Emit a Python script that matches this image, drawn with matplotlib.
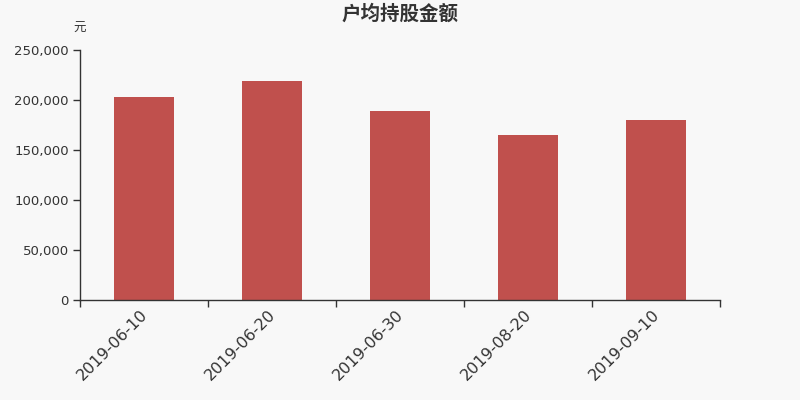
import matplotlib
matplotlib.use("Agg")
import matplotlib.pyplot as plt
import matplotlib.transforms as mtransforms
import numpy as np

plt.rcParams['font.family'] = ['DejaVu Sans', 'Noto Sans CJK SC']

categories = ["2019-06-10", "2019-06-20", "2019-06-30", "2019-08-20", "2019-09-10"]
values = [203000, 219000, 189000, 165000, 180000]
yticks = [0, 50000, 100000, 150000, 200000, 250000]
title = "户均持股金额"
unit = "元"

bg = "#f8f8f8"
fig = plt.figure(figsize=(8, 4), dpi=100, facecolor=bg)
ax = fig.add_axes([0.1, 0.25, 0.8, 0.625], facecolor=bg)

x = np.arange(len(categories))
ax.bar(x, values, width=0.47, color="#c0504d", zorder=2)

ax.set_xlim(-0.5, len(categories) - 0.5)
ax.set_ylim(0, 250000)
ax.set_yticks(yticks)
ax.set_yticklabels([f"{v:,}" for v in yticks], fontsize=9.5, color="#333333")

ax.set_xticks(np.arange(len(categories) + 1) - 0.5)
ax.set_xticklabels([])
ax.set_xticks(x, minor=True)
ax.set_xticklabels(categories, minor=True, rotation=45, ha="right", va="top",
                   rotation_mode="anchor", fontsize=11.5, color="#333333")
ax.tick_params(axis="x", which="minor", length=0, pad=5)
ax.tick_params(axis="x", which="major", length=5, color="#333333", width=1)
ax.tick_params(axis="y", length=5, color="#333333", width=1, pad=3)
offset = mtransforms.ScaledTranslation(-4 / 100, 0, fig.dpi_scale_trans)
for lbl in ax.get_xticklabels(minor=True):
    lbl.set_transform(lbl.get_transform() + offset)

for s in ["top", "right"]:
    ax.spines[s].set_visible(False)
for s in ["left", "bottom"]:
    ax.spines[s].set_color("#333333")
    ax.spines[s].set_linewidth(1)

fig.text(0.5, 0.966, title, ha="center", va="center", fontsize=14, fontweight="bold",
         color="#333333", family=["Noto Sans CJK SC", "DejaVu Sans"])
fig.text(0.099, 0.928, unit, ha="center", va="center", fontsize=9,
         color="#333333", family=["Noto Sans CJK SC", "DejaVu Sans"])

fig.savefig("out.png", dpi=100, facecolor=bg)
